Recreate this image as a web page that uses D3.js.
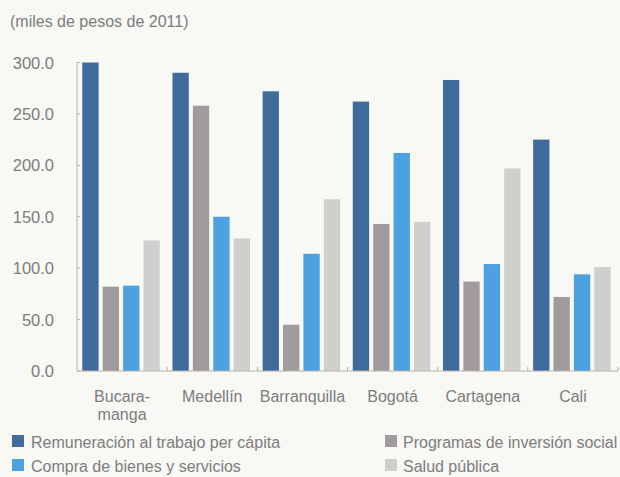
<!DOCTYPE html>
<html>
<head>
<meta charset="utf-8">
<script src="https://cdn.jsdelivr.net/npm/d3@7"></script>
<style>
  html, body { margin: 0; padding: 0; background: #f8f8f4; }
  svg { display: block; }
  text { font-family: "Liberation Sans", Arial, sans-serif; fill: #7d7d7d; }
</style>
</head>
<body>
<svg id="chart" width="620" height="477"></svg>
<script>
const categories = ["Bucaramanga", "Medellín", "Barranquilla", "Bogotá", "Cartagena", "Cali"];
const categoryLabels = [["Bucara-", "manga"], ["Medellín"], ["Barranquilla"], ["Bogotá"], ["Cartagena"], ["Cali"]];
const seriesNames = ["Remuneración al trabajo per cápita", "Programas de inversión social", "Compra de bienes y servicios", "Salud pública"];
const remuneracion = [300, 290, 272, 262, 283, 225];
const programas = [82, 258, 45, 143, 87, 72];
const compra = [83, 150, 114, 212, 104, 94];
const salud = [127, 129, 167, 145, 197, 101];
const yTicks = [0, 50, 100, 150, 200, 250, 300];
const colors = ["#406c9c", "#a09c9d", "#4da1e0", "#d0cfcd"];
const title = "(miles de pesos de 2011)";

const seriesValues = [remuneracion, programas, compra, salud];

const svg = d3.select("#chart");

const x0 = d3.scaleBand().domain(categories).range([77, 618]).paddingInner(0).paddingOuter(0);
const x1 = d3.scaleBand().domain(seriesNames).range([3.25, 84.85]).paddingInner(0.2).paddingOuter(0.1);
const y = d3.scaleLinear().domain([0, 300]).range([371, 62.5]);

// title
svg.append("text").attr("x", 10).attr("y", 27).attr("font-size", 16).text(title);

// y tick labels
svg.selectAll(".ylab").data(yTicks).enter().append("text")
  .attr("x", 54).attr("y", d => y(d) + 6)
  .attr("text-anchor", "end").attr("font-size", 16.5)
  .text(d => d3.format(".1f")(d));

// bars
const groups = svg.selectAll(".grp").data(categories).enter().append("g")
  .attr("transform", d => `translate(${x0(d)},0)`);
groups.selectAll("rect").data((c, i) => seriesNames.map((s, j) => ({s, j, v: seriesValues[j][i]})))
  .enter().append("rect")
  .attr("x", d => x1(d.s)).attr("width", x1.bandwidth())
  .attr("y", d => y(d.v)).attr("height", d => y(0) - y(d.v))
  .attr("fill", d => colors[d.j]);

// axes
const axisColor = "#b9b2a4";
svg.append("line").attr("x1", 77).attr("x2", 77).attr("y1", y(300)).attr("y2", y(0))
  .attr("stroke", axisColor).attr("stroke-width", 1);
svg.selectAll(".ytick").data(yTicks).enter().append("line")
  .attr("x1", 77).attr("x2", 80).attr("y1", d => y(d)).attr("y2", d => y(d))
  .attr("stroke", axisColor);
svg.append("line").attr("x1", 77).attr("x2", 618).attr("y1", y(0)).attr("y2", y(0))
  .attr("stroke", axisColor).attr("stroke-width", 1.2);
svg.selectAll(".xtick").data(categories).enter().append("line")
  .attr("x1", d => x0(d) + x0.bandwidth()).attr("x2", d => x0(d) + x0.bandwidth())
  .attr("y1", y(0)).attr("y2", y(0) - 4)
  .attr("stroke", axisColor);

// x labels
categories.forEach((c, i) => {
  const cx = x0(c) + x0.bandwidth() / 2;
  const t = svg.append("text").attr("text-anchor", "middle").attr("font-size", 16)
    .attr("x", cx).attr("y", 402);
  categoryLabels[i].forEach((line, k) => {
    t.append("tspan").attr("x", cx).attr("dy", k === 0 ? 0 : 18).text(line);
  });
});

// legend
const legendPos = [[12, 448, 31], [385, 448, 403], [12, 472, 31], [385, 472, 403]];
seriesNames.forEach((s, j) => {
  const [lx, ly, tx] = legendPos[j];
  svg.append("rect").attr("x", lx).attr("y", ly - 13).attr("width", 12).attr("height", 12).attr("fill", colors[j]);
  svg.append("text").attr("x", tx).attr("y", ly).attr("font-size", 16).text(s);
});
</script>
</body>
</html>
